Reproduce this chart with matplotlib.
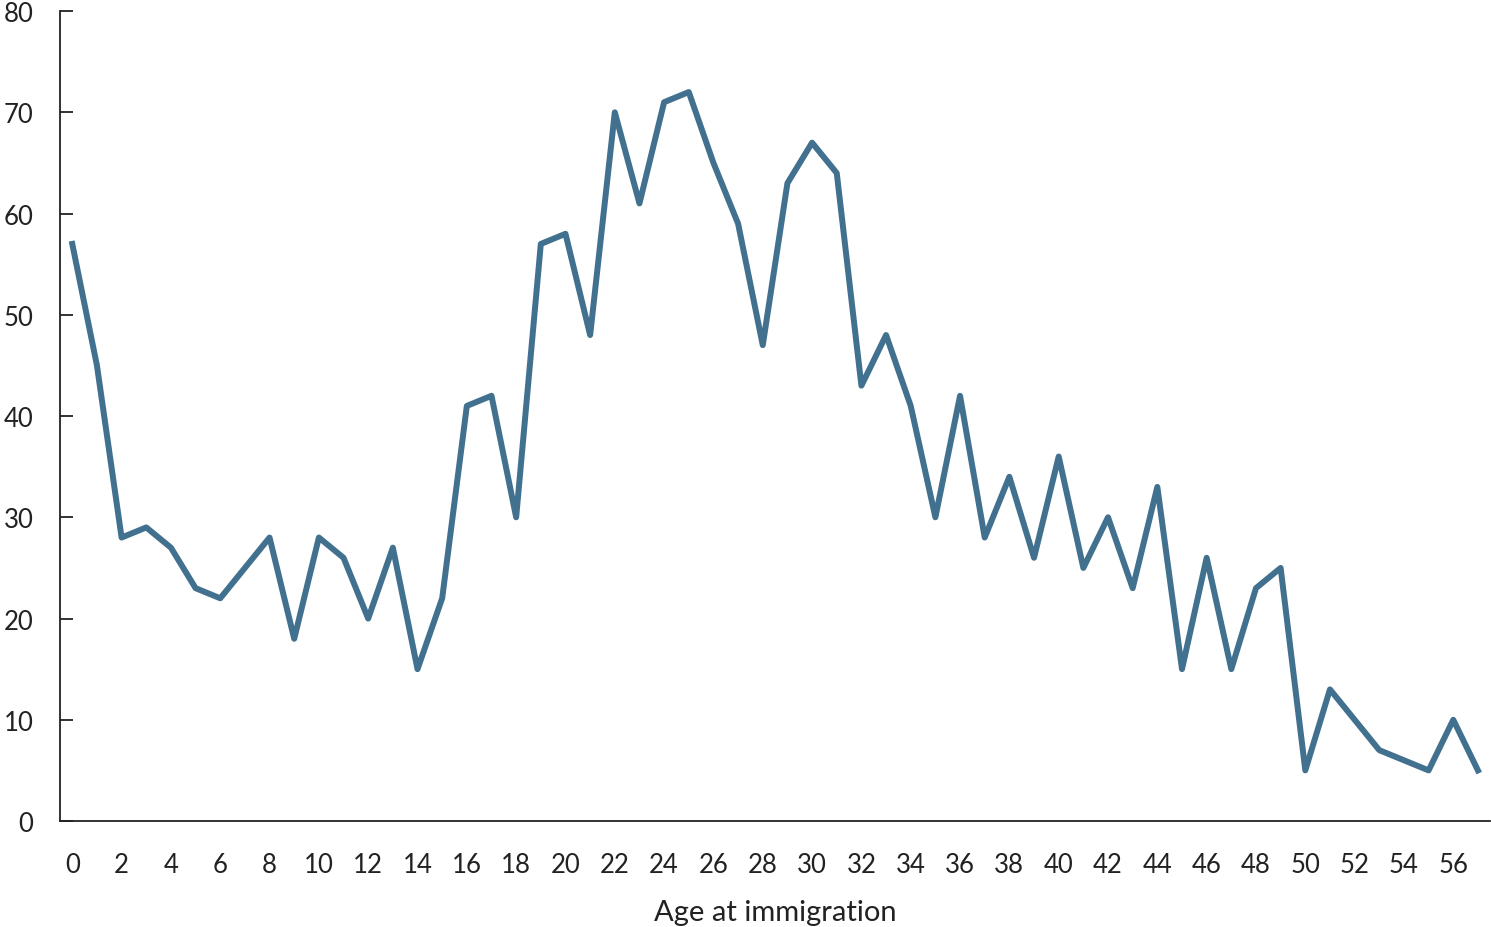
import matplotlib
matplotlib.use("Agg")
import matplotlib.pyplot as plt
import numpy as np

# Age at immigration and counts
ages = np.arange(0, 58)
counts = [57, 45, 28, 29, 27, 23, 22, 25, 28, 18,
          28, 26, 20, 27, 15, 22, 41, 42, 30, 57,
          58, 48, 70, 61, 71, 72, 65, 59, 47, 63,
          67, 64, 43, 48, 41, 30, 42, 28, 34, 26,
          36, 25, 30, 23, 33, 15, 26, 15, 23, 25,
          5, 13, 10, 7, 6, 5, 10, 5]
x_ticks = list(range(0, 58, 2))
y_ticks = list(range(0, 81, 10))

plt.rcParams["font.family"] = ["Lato", "DejaVu Sans"]

fig = plt.figure(figsize=(14.91, 9.28), dpi=100)
ax = fig.add_axes([0.0402, 0.1142, 0.9593, 0.8728])

ax.plot(ages, counts, color="#41718f", linewidth=4.3, solid_joinstyle="round")

ax.set_xlim(-0.5, 57.5)
ax.set_ylim(0, 80)
ax.set_xticks(x_ticks)
ax.set_yticks(y_ticks)
ax.tick_params(axis="x", length=0, labelsize=18.5, pad=22, colors="#222222")
ax.tick_params(axis="y", direction="in", length=9, width=1.3, labelsize=18.5,
               pad=19, colors="#222222")

for side in ["top", "right"]:
    ax.spines[side].set_visible(False)
for side in ["left", "bottom"]:
    ax.spines[side].set_linewidth(1.3)
    ax.spines[side].set_color("#222222")

ax.set_xlabel("Age at immigration", fontsize=21, labelpad=16, color="#222222")

fig.savefig("out.png", dpi=100)
